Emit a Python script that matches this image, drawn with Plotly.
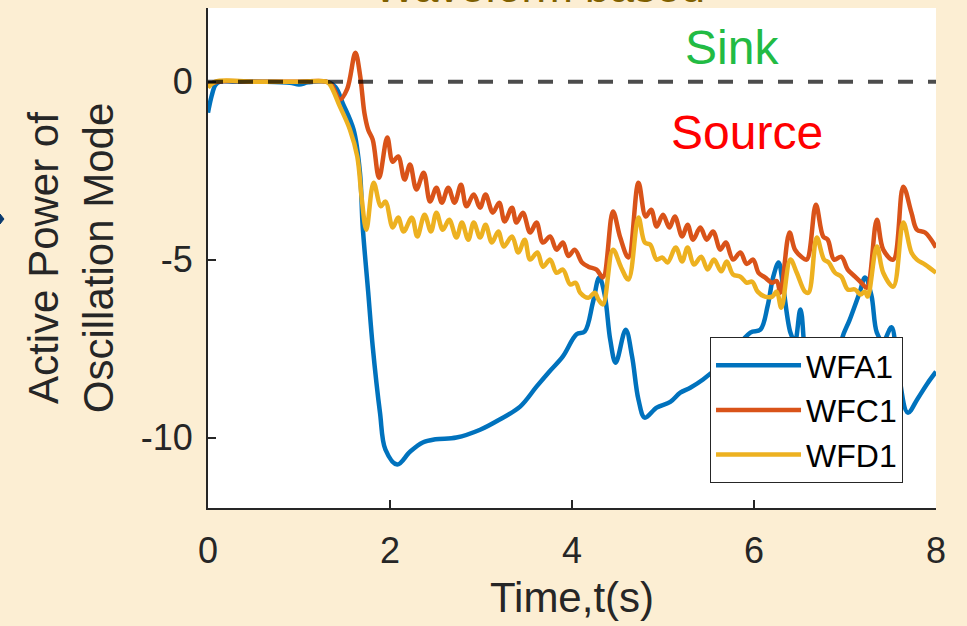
import plotly.graph_objects as go

# ---------------- data ----------------
t_wfa1 = [0.0, 0.04, 0.08, 0.13, 0.3, 0.6, 0.9, 1.0, 1.1, 1.3, 1.4, 1.48, 1.6, 1.67, 1.70, 1.76,
          1.81, 1.89, 1.95, 2.08, 2.22, 2.36, 2.5, 2.73, 2.99, 3.2, 3.43, 3.61, 3.75, 3.9, 4.05,
          4.14, 4.23, 4.30, 4.36, 4.42, 4.48, 4.59, 4.66, 4.73, 4.80, 4.93, 5.08, 5.19, 5.30,
          5.44, 5.7, 5.96, 6.07, 6.15, 6.21, 6.27, 6.32, 6.40, 6.45, 6.51, 6.6, 6.75, 6.9, 6.97,
          7.05, 7.16, 7.22, 7.29, 7.35, 7.42, 7.51, 7.58, 7.69, 7.8, 7.9, 8.0]
v_wfa1 = [-0.87, -0.4, -0.1, 0.0, 0.0, 0.0, -0.03, -0.08, -0.02, 0.0, -0.15, -0.6, -1.35, -2.56,
          -4.07, -5.9, -7.44, -9.3, -10.34, -10.76, -10.4, -10.14, -10.05, -10.0, -9.78, -9.5,
          -9.13, -8.57, -8.15, -7.72, -7.1, -7.02, -6.2, -5.5, -6.0, -7.25, -7.9, -6.97, -7.72,
          -8.93, -9.44, -9.16, -9.0, -8.74, -8.6, -8.37, -7.8, -7.05, -6.97, -6.3, -5.5, -5.08,
          -5.76, -7.05, -7.3, -6.4, -8.4, -9.2, -8.5, -7.2, -6.7, -5.93, -5.5, -6.0, -7.05,
          -7.3, -6.9, -8.0, -9.3, -8.9, -8.5, -8.15]

t_wfc1 = [0.0, 0.1, 0.5, 1.0, 1.3, 1.36, 1.45, 1.53, 1.62, 1.67, 1.72, 1.76, 1.81, 1.88, 1.97,
          2.03, 2.09, 2.16, 2.22, 2.29, 2.37, 2.44, 2.51, 2.57, 2.64, 2.71, 2.78, 2.84, 2.92,
          2.99, 3.05, 3.13, 3.20, 3.26, 3.34, 3.39, 3.46, 3.54, 3.61, 3.68, 3.76, 3.83, 3.90,
          3.96, 4.03, 4.11, 4.18, 4.27, 4.34, 4.45, 4.53, 4.62, 4.73, 4.81, 4.87, 4.93, 5.0,
          5.07, 5.13, 5.21, 5.27, 5.33, 5.41, 5.48, 5.55, 5.63, 5.69, 5.77, 5.85, 5.92, 5.99,
          6.05, 6.12, 6.2, 6.25, 6.29, 6.39, 6.45, 6.52, 6.58, 6.68, 6.76, 6.81, 6.88, 6.96,
          7.03, 7.11, 7.18, 7.24, 7.35, 7.42, 7.53, 7.64, 7.73, 7.79, 7.88, 8.0]
v_wfc1 = [-0.1, 0.0, 0.0, 0.0, 0.0, -0.1, -0.5, -0.2, 0.81, 0.2, -0.9, -1.35, -1.63, -2.7, -1.57,
          -2.25, -2.1, -2.75, -2.33, -3.03, -2.56, -3.37, -2.98, -3.4, -2.98, -3.4, -2.9, -3.5,
          -3.17, -3.54, -3.17, -3.68, -3.4, -3.93, -3.54, -3.96, -3.68, -4.24, -3.96, -4.52,
          -4.35, -4.72, -4.52, -4.9, -4.72, -5.08, -5.2, -5.28, -5.5, -3.65, -4.38, -4.94, -2.84,
          -3.79, -3.6, -4.07, -3.74, -4.1, -3.79, -4.35, -4.02, -4.44, -4.1, -4.44, -4.21, -4.72,
          -4.52, -5.0, -4.8, -5.12, -5.0, -5.37, -5.5, -5.65, -5.6, -5.93, -4.24, -4.72, -4.92,
          -5.0, -3.46, -4.35, -4.44, -5.0, -4.92, -5.28, -5.48, -5.65, -5.79, -3.88, -4.72, -5.0,
          -2.95, -3.68, -4.16, -4.24, -4.66]

t_wfd1 = [0.0, 0.08, 0.5, 1.0, 1.3, 1.34, 1.45, 1.56, 1.64, 1.69, 1.74, 1.82, 1.90, 1.95, 2.03,
          2.09, 2.15, 2.24, 2.30, 2.38, 2.45, 2.51, 2.58, 2.65, 2.73, 2.79, 2.86, 2.92, 2.99,
          3.05, 3.12, 3.19, 3.25, 3.34, 3.41, 3.48, 3.54, 3.62, 3.68, 3.76, 3.83, 3.90, 3.98,
          4.04, 4.09, 4.18, 4.25, 4.29, 4.34, 4.45, 4.54, 4.62, 4.73, 4.80, 4.86, 4.93, 4.99,
          5.05, 5.14, 5.21, 5.27, 5.34, 5.42, 5.49, 5.56, 5.64, 5.70, 5.77, 5.85, 5.92, 5.98,
          6.04, 6.12, 6.20, 6.25, 6.30, 6.40, 6.47, 6.56, 6.60, 6.69, 6.77, 6.82, 6.89, 6.96,
          7.03, 7.11, 7.17, 7.22, 7.25, 7.35, 7.42, 7.53, 7.64, 7.73, 7.79, 7.88, 8.0]
v_wfd1 = [-0.17, 0.0, 0.0, 0.0, 0.0, -0.08, -0.7, -1.35, -2.1, -3.3, -4.16, -2.84, -3.5, -3.37,
          -4.1, -3.82, -4.21, -3.82, -4.35, -3.74, -4.21, -3.68, -4.16, -3.88, -4.38, -3.96,
          -4.44, -3.96, -4.38, -4.02, -4.52, -4.21, -4.63, -4.35, -4.8, -4.44, -5.0, -4.8, -5.2,
          -5.0, -5.37, -5.28, -5.7, -5.65, -5.93, -6.07, -5.93, -6.12, -6.26, -4.72, -5.22,
          -5.56, -3.82, -4.52, -4.58, -5.0, -4.94, -5.08, -4.66, -5.05, -4.66, -5.14, -4.92,
          -5.28, -5.0, -5.33, -5.05, -5.42, -5.48, -5.65, -5.62, -5.9, -6.04, -6.04, -5.9,
          -6.35, -5.0, -5.37, -5.9, -5.93, -4.38, -5.0, -5.08, -5.37, -5.48, -5.84, -5.84,
          -5.98, -5.9, -6.04, -4.63, -5.37, -5.76, -3.96, -4.8, -5.0, -5.14, -5.37]

series_names = ["WFA1", "WFC1", "WFD1"]
series_colors = ["#0072BD", "#D95319", "#EDB120"]

x_ticks = [0, 2, 4, 6, 8]
x_tick_text = ["0", "2", "4", "6", "8"]
y_ticks = [0, -5, -10]
y_tick_text = ["0", "-5", "-10"]

FONT = "Liberation Sans, Arial, Helvetica, sans-serif"
TXT = "#262626"

fig = go.Figure()
for tx, vy, nm, col in zip([t_wfa1, t_wfc1, t_wfd1], [v_wfa1, v_wfc1, v_wfd1],
                           series_names, series_colors):
    fig.add_trace(go.Scatter(x=tx, y=vy, name=nm, mode="lines",
                             line=dict(color=col, width=4.5, shape="spline", smoothing=1.0)))

# zero reference line (dashed, on top)
fig.add_hline(y=0, line=dict(color="rgba(0,0,0,0.7)", width=4, dash="15px,15px"))

fig.add_annotation(x=5.76, y=0.97, text="Sink", showarrow=False,
                   font=dict(family=FONT, size=48, color="#22BB44"))
fig.add_annotation(x=5.92, y=-1.44, text="Source", showarrow=False,
                   font=dict(family=FONT, size=48, color="#FF0000"))

# partially visible title at top
fig.add_annotation(xref="paper", yref="paper", x=0.456, y=0.99, xanchor="center",
                   yanchor="bottom", text="Waveform based", showarrow=False,
                   font=dict(family=FONT, size=44, color="#7F6000"))

# small arrow tip fragment at left edge
fig.add_shape(type="path", xref="paper", yref="paper",
              path="M -0.2857 0.588 L -0.2802 0.578 L -0.2857 0.568 Z",
              fillcolor="#0B3A6E", line=dict(color="#0B3A6E", width=1))

fig.update_layout(
    width=967, height=626,
    margin=dict(l=208, r=31, t=8, b=118),
    paper_bgcolor="#FCEED3",
    plot_bgcolor="#FFFFFF",
    font=dict(family=FONT, color=TXT),
    showlegend=True,
    legend=dict(x=0.9547, xanchor="right", y=0.05, yanchor="bottom",
                bgcolor="#FFFFFF", bordercolor=TXT, borderwidth=1,
                font=dict(family=FONT, size=32, color="#000000"),
                itemwidth=85, tracegroupgap=0),
)
fig.update_xaxes(range=[0, 8], tickvals=x_ticks, ticktext=x_tick_text,
                 showgrid=False, zeroline=False, showline=True, linecolor=TXT, linewidth=2,
                 ticks="inside", ticklen=8, tickwidth=2, tickcolor=TXT,
                 tickfont=dict(family=FONT, size=36, color=TXT), ticklabelstandoff=10,
                 title=dict(text="Time,t(s)", font=dict(family=FONT, size=42, color=TXT),
                            standoff=12))
fig.update_yaxes(range=[-11.98, 2.07], tickvals=y_ticks, ticktext=y_tick_text,
                 showgrid=False, zeroline=False, showline=True, linecolor=TXT, linewidth=2,
                 ticks="inside", ticklen=8, tickwidth=2, tickcolor=TXT,
                 tickfont=dict(family=FONT, size=36, color=TXT), ticklabelstandoff=6,
                 title=dict(text="Active Power of<br>Oscillation Mode",
                            font=dict(family=FONT, size=42, color=TXT), standoff=14))

fig.write_html("out.html")
